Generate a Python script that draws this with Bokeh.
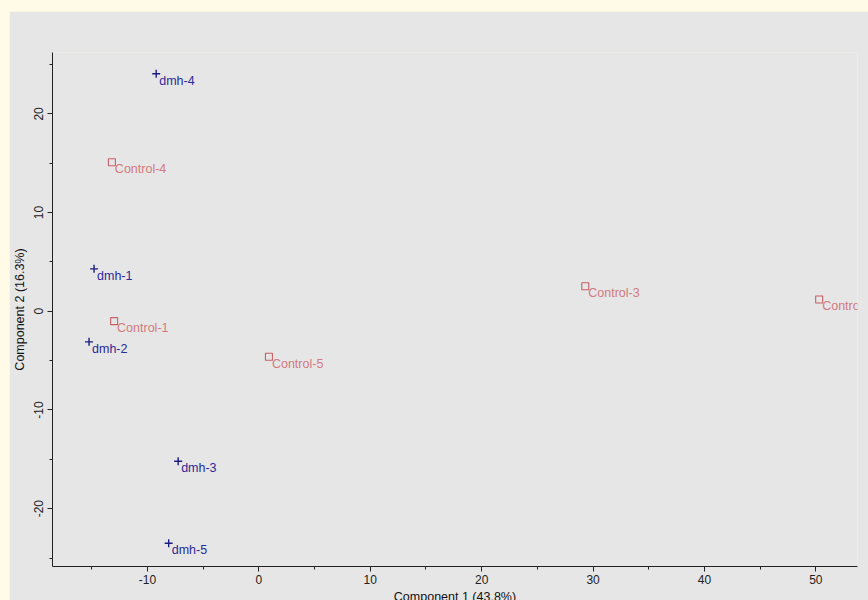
from bokeh.plotting import figure
from bokeh.models import (Range1d, LinearAxis, SingleIntervalTicker, Spacer,
                          ColumnDataSource, PrintfTickFormatter)
from bokeh.layouts import column, row
from bokeh.core.properties import value
from bokeh.embed import file_html
from bokeh.resources import INLINE

# PCA scores: Component 1 vs Component 2
dmh_names = ["dmh-1", "dmh-2", "dmh-3", "dmh-4", "dmh-5"]
dmh_pc1 = [-14.8, -15.25, -7.25, -9.22, -8.1]
dmh_pc2 = [4.3, -3.1, -15.2, 24.06, -23.5]

ctrl_names = ["Control-1", "Control-2", "Control-3", "Control-4", "Control-5"]
ctrl_pc1 = [-13.0, 50.3, 29.3, -13.2, 0.9]
ctrl_pc2 = [-1.0, 1.2, 2.54, 15.1, -4.6]

x_title = "Component 1 (43.8%)"
y_title = "Component 2 (16.3%)"

PANEL = "#E6E6E6"
PAGE = "#FFFBE6"
AXIS = "#222222"
FONT = "Liberation Sans"
BLUE_MARK = "#1c1c80"
BLUE_TEXT = "#2a2a9a"
RED_MARK = "#c85f66"
RED_TEXT = "#d27a80"

p = figure(
    width=859, height=596,
    x_range=Range1d(-18.53, 53.74), y_range=Range1d(-25.86, 26.22),
    output_backend="svg", toolbar_location=None,
    x_axis_type=None, y_axis_type=None,
    min_border_left=42, min_border_right=11,
    min_border_top=41, min_border_bottom=41,
)
p.background_fill_color = PANEL
p.border_fill_color = PANEL
p.outline_line_color = None
p.xgrid.visible = False
p.ygrid.visible = False


def style_axis(ax):
    ax.formatter = PrintfTickFormatter(format="%d")
    ax.axis_line_color = AXIS
    ax.axis_line_width = 1
    ax.major_tick_line_color = AXIS
    ax.minor_tick_line_color = AXIS
    ax.major_tick_in = 0
    ax.major_tick_out = 5
    ax.minor_tick_in = 0
    ax.minor_tick_out = 3
    ax.major_label_text_font = FONT
    ax.major_label_text_font_size = "12px"
    ax.major_label_text_color = AXIS
    ax.axis_label_text_font = FONT
    ax.axis_label_text_font_size = "12.5px"
    ax.axis_label_text_font_style = "normal"
    ax.axis_label_text_color = "#111111"


xaxis = LinearAxis(ticker=SingleIntervalTicker(interval=10, num_minor_ticks=2),
                   axis_label=x_title)
style_axis(xaxis)
xaxis.major_label_standoff = 3
xaxis.axis_label_standoff = 3
p.add_layout(xaxis, "below")

yaxis = LinearAxis(ticker=SingleIntervalTicker(interval=10, num_minor_ticks=2),
                   axis_label=y_title)
style_axis(yaxis)
yaxis.major_label_orientation = "vertical"
yaxis.major_label_standoff = 4
yaxis.axis_label_standoff = 5
p.add_layout(yaxis, "left")

dmh = ColumnDataSource(dict(x=dmh_pc1, y=dmh_pc2, name=dmh_names))
ctrl = ColumnDataSource(dict(x=ctrl_pc1, y=ctrl_pc2, name=ctrl_names))

p.scatter("x", "y", source=dmh, marker="cross", size=8,
          line_color=BLUE_MARK, line_width=1.4)
p.scatter("x", "y", source=ctrl, marker="square", size=7,
          fill_color=None, line_color=RED_MARK, line_width=1.1)

p.text("x", "y", text="name", source=dmh, x_offset=3, y_offset=7,
       text_font=value(FONT), text_font_size="12.5px",
       text_color=BLUE_TEXT, text_baseline="alphabetic")
p.text("x", "y", text="name", source=ctrl, x_offset=3, y_offset=7,
       text_font=value(FONT), text_font_size="12.5px",
       text_color=RED_TEXT, text_baseline="alphabetic")

layout = column(
    Spacer(height=11, width=868),
    row(Spacer(width=9, height=596), p),
    height=600, width=868,
    styles={"background-color": PAGE, "overflow": "hidden"},
)

open("out.html", "w").write(file_html(layout, INLINE))
